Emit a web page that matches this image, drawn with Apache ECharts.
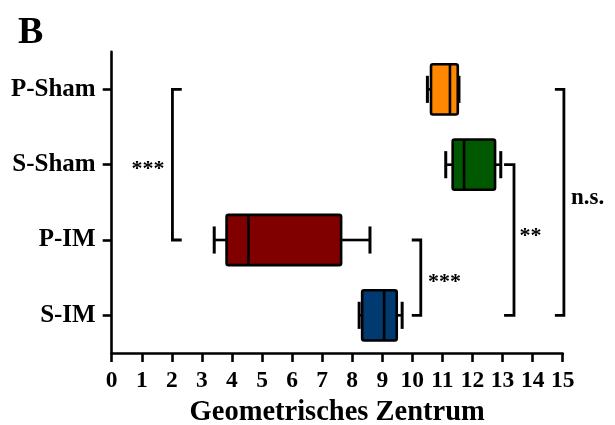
<!DOCTYPE html>
<html>
<head>
<meta charset="utf-8">
<script src="https://cdn.jsdelivr.net/npm/echarts@6/dist/echarts.min.js"></script>
<style>
html,body{margin:0;padding:0;background:#fff;}
#chart{width:615px;height:425px;}
</style>
</head>
<body>
<div id="chart"></div>
<script>
// ---- data ----
const categories = ['P-Sham', 'S-Sham', 'P-IM', 'S-IM'];
const whiskerLow  = [10.50, 11.11, 3.41, 8.23];
const q1          = [10.62, 11.34, 3.82, 8.33];
const median      = [11.25, 11.72, 4.55, 9.06];
const q3          = [11.51, 12.75, 7.63, 9.48];
const whiskerHigh = [11.55, 12.94, 8.59, 9.66];
const xTicks = [0,1,2,3,4,5,6,7,8,9,10,11,12,13,14,15];

// significance brackets (in data units; label row is a category-index position)
const bracketFrom   = ['P-Sham', 'P-IM', 'S-Sham', 'P-Sham'];
const bracketTo     = ['P-IM',   'S-IM', 'S-IM',   'S-IM'];
const bracketX      = [2.02, 10.28, 13.38, 15.04];
const bracketTickX  = [2.33, 9.98, 13.05, 14.74];
const bracketLabelX = [1.21, 11.07, 13.93, 15.83];
const bracketLabelRow = [1.0, 2.5, 1.88, 1.47];
const bracketLabels = ['***', '***', '**', 'n.s.'];

// ---- styles ----
const boxColors = ['#FF8800', '#005800', '#800000', '#003A70'];
const FONT = '"Liberation Serif", "Times New Roman", serif';
const LW = 2.6;

const boxData = categories.map((c, i) => [whiskerLow[i], q1[i], median[i], q3[i], whiskerHigh[i], i]);
const bracketData = bracketLabels.map((l, i) => [
  bracketX[i], bracketTickX[i], bracketLabelX[i],
  categories.indexOf(bracketFrom[i]), categories.indexOf(bracketTo[i])
]);

const chart = echarts.init(document.getElementById('chart'));
chart.setOption({
  animation: false,
  backgroundColor: '#fff',
  title: {
    text: 'B', left: 13, top: 9,
    textStyle: { fontFamily: FONT, fontWeight: 'bold', fontSize: 38, color: '#000' }
  },
  grid: { left: 111.7, right: 52.3, top: 51.7, bottom: 72, containLabel: false, outerBoundsMode: 'none' },
  xAxis: {
    type: 'value', min: 0, max: 15, interval: 1,
    name: 'Geometrisches Zentrum', nameLocation: 'middle', nameGap: 44,
    nameTextStyle: { fontFamily: FONT, fontWeight: 'bold', fontSize: 28.5, color: '#000' },
    axisLine: { show: true, lineStyle: { color: '#000', width: LW } },
    axisTick: { show: true, length: 9, lineStyle: { color: '#000', width: LW } },
    splitLine: { show: false },
    axisLabel: {
      margin: 16, color: '#000', fontFamily: FONT, fontWeight: 'bold', fontSize: 23.5,
      formatter: v => xTicks.indexOf(v) >= 0 ? String(v) : ''
    }
  },
  yAxis: {
    type: 'category', data: categories, inverse: true,
    axisLine: { show: true, lineStyle: { color: '#000', width: LW } },
    axisTick: { show: true, alignWithLabel: true, length: 9, lineStyle: { color: '#000', width: LW } },
    splitLine: { show: false },
    axisLabel: { margin: 16, color: '#000', fontFamily: FONT, fontWeight: 'bold', fontSize: 25 }
  },
  series: [
    {
      type: 'custom',
      coordinateSystem: 'cartesian2d',
      encode: { x: [0, 1, 2, 3, 4], y: 5 },
      data: boxData,
      renderItem: function (params, api) {
        const idx = api.value(5);
        const band = api.size([0, 1])[1];
        const boxH = band * 0.667;
        const capH = band * 0.36;
        const pMin = api.coord([api.value(0), idx]);
        const pQ1 = api.coord([api.value(1), idx]);
        const pMed = api.coord([api.value(2), idx]);
        const pQ3 = api.coord([api.value(3), idx]);
        const pMax = api.coord([api.value(4), idx]);
        const cy = pMed[1];
        const ls = { stroke: '#000', lineWidth: LW, lineCap: 'butt' };
        return {
          type: 'group',
          children: [
            { type: 'line', shape: { x1: pMin[0], y1: cy, x2: pQ1[0], y2: cy }, style: ls },
            { type: 'line', shape: { x1: pQ3[0], y1: cy, x2: pMax[0], y2: cy }, style: ls },
            { type: 'line', shape: { x1: pMin[0], y1: cy - capH / 2, x2: pMin[0], y2: cy + capH / 2 }, style: { stroke: '#000', lineWidth: 3 } },
            { type: 'line', shape: { x1: pMax[0], y1: cy - capH / 2, x2: pMax[0], y2: cy + capH / 2 }, style: { stroke: '#000', lineWidth: 3 } },
            {
              type: 'rect',
              shape: { x: pQ1[0], y: cy - boxH / 2, width: pQ3[0] - pQ1[0], height: boxH, r: 2 },
              style: { fill: boxColors[idx], stroke: '#000', lineWidth: LW }
            },
            { type: 'line', shape: { x1: pMed[0], y1: cy - boxH / 2, x2: pMed[0], y2: cy + boxH / 2 }, style: ls }
          ]
        };
      },
      z: 3
    },
    {
      type: 'custom',
      coordinateSystem: 'cartesian2d',
      encode: { x: [0, 1, 2], y: [3, 4] },
      data: bracketData,
      renderItem: function (params, api) {
        const i = params.dataIndex;
        const a = api.coord([api.value(0), api.value(3)]);
        const b = api.coord([api.value(0), api.value(4)]);
        const ta = api.coord([api.value(1), api.value(3)]);
        const lx = api.coord([api.value(2), api.value(3)])[0];
        // interpolate the label row between category centres
        const row = bracketLabelRow[i];
        const r0 = Math.floor(row), r1 = Math.min(r0 + 1, categories.length - 1);
        const y0 = api.coord([api.value(0), r0])[1];
        const y1 = api.coord([api.value(0), r1])[1];
        const ly = y0 + (y1 - y0) * (row - r0);
        const isStar = bracketLabels[i].indexOf('*') >= 0;
        return {
          type: 'group',
          children: [
            {
              type: 'polyline',
              shape: { points: [[ta[0], a[1]], [a[0], a[1]], [a[0], b[1]], [ta[0], b[1]]] },
              style: { stroke: '#000', lineWidth: 2.8, fill: null, lineJoin: 'miter' }
            },
            {
              type: 'text',
              style: {
                text: bracketLabels[i], x: lx, y: ly + (isStar ? 5 : -2),
                align: 'center', verticalAlign: 'middle',
                font: 'bold ' + (isStar ? 22 : 23) + 'px ' + FONT, fill: '#000'
              }
            }
          ]
        };
      },
      z: 2
    }
  ]
});
</script>
</body>
</html>
